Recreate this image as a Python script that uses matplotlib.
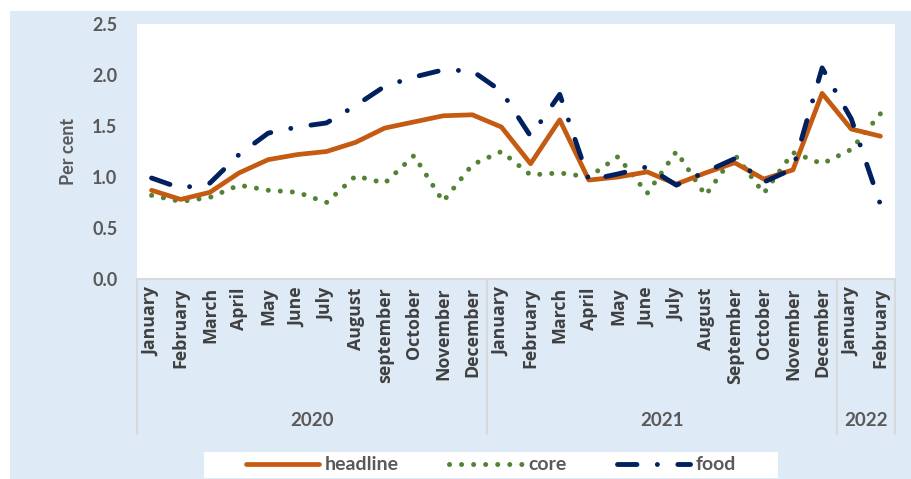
import matplotlib
matplotlib.use('Agg')
import matplotlib.pyplot as plt
import matplotlib.transforms as mtransforms
from matplotlib.patches import Rectangle

months = ['January', 'February', 'March', 'April', 'May', 'June', 'July',
          'August', 'september', 'October', 'November', 'December',
          'January', 'February', 'March', 'April', 'May', 'June', 'July',
          'August', 'September', 'October', 'November', 'December',
          'January', 'February']
years = ['2020', '2021', '2022']
year_lengths = [12, 12, 2]

headline = [0.87, 0.78, 0.85, 1.04, 1.17, 1.22, 1.25, 1.34, 1.48, 1.54, 1.60, 1.61,
            1.49, 1.13, 1.56, 0.97, 1.00, 1.05, 0.93, 1.04, 1.14, 0.98, 1.07, 1.82,
            1.47, 1.40]
core = [0.82, 0.76, 0.80, 0.92, 0.87, 0.85, 0.75, 1.01, 0.94, 1.21, 0.76, 1.12,
        1.25, 1.02, 1.04, 1.00, 1.20, 0.84, 1.25, 0.82, 1.22, 0.84, 1.24, 1.13,
        1.27, 1.62]
food = [0.99, 0.89, 0.94, 1.22, 1.43, 1.49, 1.53, 1.70, 1.89, 1.98, 2.05, 2.04,
        1.84, 1.40, 1.81, 0.97, 1.03, 1.10, 0.92, 1.05, 1.18, 0.95, 1.08, 2.07,
        1.57, 0.73]

W, H = 911, 479
bg = '#DEEAF6'
txt = '#595959'

fig = plt.figure(figsize=(W / 100, H / 100), dpi=100)
fig.patch.set_facecolor('white')
# light blue chart area and white legend strip, kept behind the axes
fig.patches.append(Rectangle((10 / W, 0), (W - 10) / W, (H - 11) / H,
                             transform=fig.transFigure, facecolor=bg, edgecolor='none', zorder=-10))
fig.patches.append(Rectangle((204 / W, 1 - 478 / H), 574 / W, 26 / H,
                             transform=fig.transFigure, facecolor='white', edgecolor='none', zorder=-9))

ax = fig.add_axes([137 / W, 1 - 279 / H, 758 / W, 255 / H])
ax.set_zorder(1)
ax.set_facecolor('white')
x = list(range(len(months)))

ax.plot(x, headline, color='#C55A11', lw=3.4, solid_capstyle='round',
        solid_joinstyle='round', label='headline', zorder=3)
ax.plot(x, core, color='#548235', lw=3.6, linestyle=(0, (0.01, 2.4)),
        dash_capstyle='round', label='core', zorder=2)
ax.plot(x, food, color='#002060', lw=3.5, linestyle=(0, (4.0, 4.2, 0.01, 4.2)),
        dash_capstyle='round', label='food', zorder=4)

ax.set_xlim(-0.5, len(months) - 0.5)
ax.set_ylim(0, 2.5)
ax.set_yticks([0, 0.5, 1.0, 1.5, 2.0, 2.5])
ax.set_yticklabels(['%.1f' % v for v in [0, 0.5, 1.0, 1.5, 2.0, 2.5]],
                   fontfamily='Lato', fontweight='bold', fontsize=13, color=txt)
ax.tick_params(axis='y', length=0, pad=14)
ax.set_xticks(x)
ax.set_xticklabels(months, rotation=90, fontfamily='Open Sans', fontweight='bold',
                   fontsize=12.8, color='#404040', va='top', ha='center')
ax.tick_params(axis='x', length=0, pad=6)
for side in ['top', 'left', 'right']:
    ax.spines[side].set_visible(False)
ax.spines['bottom'].set_color('#D9D9D9')
ax.spines['bottom'].set_linewidth(1.5)

ax.set_ylabel('Per cent', fontfamily='Lato', fontweight='bold', fontsize=13, color=txt)
ax.yaxis.set_label_coords(-(137 - 77) / 758, 0.5)

# year groups under the month labels
trans = mtransforms.blended_transform_factory(ax.transData, ax.transAxes)
sep_bottom = -(434 - 279) / 255
year_y = -(420 - 279) / 255
start = -0.5
for yr, n in zip(years, year_lengths):
    ax.plot([start, start], [0, sep_bottom], transform=trans, clip_on=False,
            color='#D9D9D9', lw=1.5)
    ax.text(start + n / 2, year_y, yr, transform=trans, ha='center', va='center',
            fontfamily='Lato', fontweight='bold', fontsize=13.5, color=txt)
    start += n
ax.plot([start, start], [0, sep_bottom], transform=trans, clip_on=False,
        color='#D9D9D9', lw=1.5)

leg = fig.legend(loc='center', bbox_to_anchor=(491 / W, 1 - 465 / H), ncol=3,
                 frameon=False, handlelength=3.75, columnspacing=2.6,
                 handletextpad=0.3, prop={'family': 'Lato', 'weight': 'bold', 'size': 14})
for t in leg.get_texts():
    t.set_color(txt)

fig.savefig('out.png', dpi=100, facecolor=fig.get_facecolor())
